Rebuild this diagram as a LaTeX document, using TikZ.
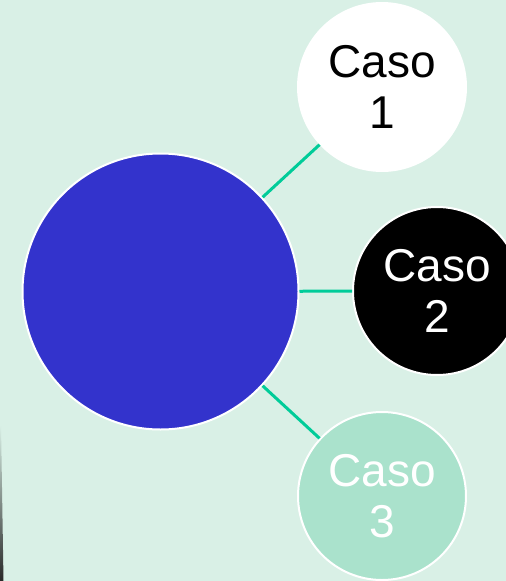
\documentclass[tikz,border=0pt]{standalone}
\usepackage{fontspec}
\setmainfont{Liberation Sans}
\definecolor{bgmint}{RGB}{217,240,230}
\definecolor{bigblue}{RGB}{51,51,204}
\definecolor{linkgreen}{RGB}{0,204,153}
\definecolor{paleteal}{RGB}{170,226,204}
\definecolor{darkstrip}{RGB}{40,40,40}
\begin{document}
\begin{tikzpicture}[x=1pt,y=-1pt,
  bubble/.style={circle,draw=white,line width=2pt,inner sep=0pt,align=center,
    font=\fontsize{46}{51}\selectfont},
  link/.style={draw=linkgreen,line width=3pt}]
\fill[bgmint] (0,0) rectangle (506,581);
\useasboundingbox (0,0) rectangle (506,581);
\shade[top color=bgmint,bottom color=darkstrip] (0,425) -- (1,425) -- (3.5,581) -- (0,581) -- cycle;
\node[bubble,fill=bigblue,minimum size=276pt] (big) at (160.5,291.5) {};
\node[bubble,fill=white,text=black,minimum size=168pt] (c1) at (382,87) {Caso\\1};
\node[bubble,fill=black,text=white,minimum size=168pt] (c2) at (437,291) {Caso\\2};
\node[bubble,fill=paleteal,text=white,minimum size=168pt] (c3) at (382,496) {Caso\\3};
\path[link] (big) -- (c1);
\path[link] (big) -- (c2);
\path[link] (big) -- (c3);
\end{tikzpicture}
\end{document}
